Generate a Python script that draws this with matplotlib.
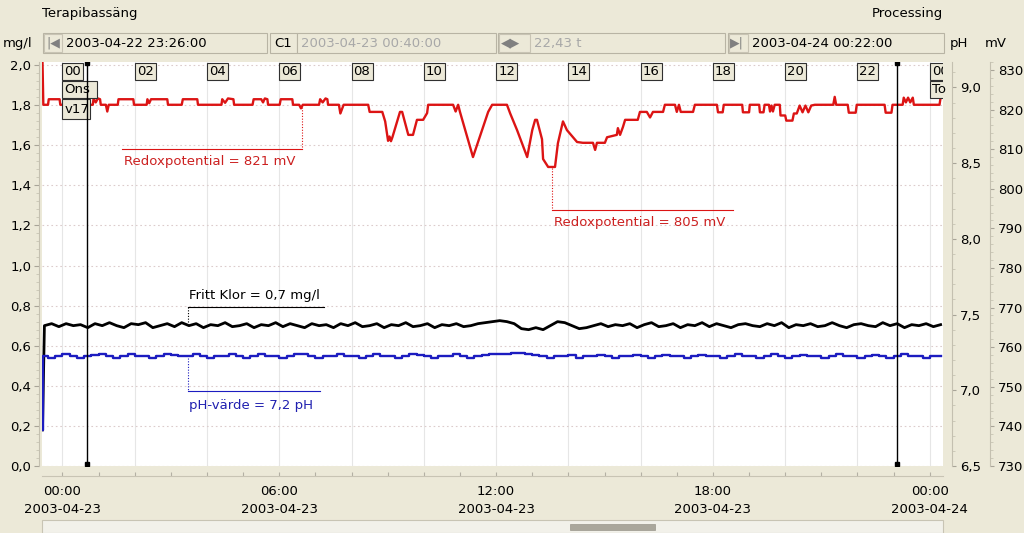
import numpy as np
import pandas as pd
import matplotlib
matplotlib.use("Agg")
import matplotlib.pyplot as plt
import matplotlib.dates as mdates
from matplotlib.patches import Rectangle
from matplotlib.ticker import MultipleLocator, FuncFormatter

# ---- data (hours after 2003-04-23 00:00) ----
START = pd.Timestamp("2003-04-23 00:00")
X_MIN = pd.Timestamp("2003-04-22 23:26:00")
X_MAX = pd.Timestamp("2003-04-24 00:22:00")
CURSOR_1 = pd.Timestamp("2003-04-23 00:40:00")
CURSOR_SPAN_H = 22.43

red_hours = [
    -0.553, -0.53, -0.40, -0.38, -0.08, -0.06, 0.84, 0.86, 0.92, 0.98, 1.04, 1.06,
    1.20, 1.24, 1.28, 1.53, 1.55, 1.96, 1.98, 2.33, 2.35, 2.40, 2.45, 2.90, 2.92,
    3.30, 3.33, 3.73, 3.75, 4.40, 4.42, 4.50, 4.58, 4.73, 4.75, 5.26, 5.29, 5.50,
    5.55, 5.60, 5.67, 5.69, 6.01, 6.04, 6.36, 6.38, 6.55, 6.60, 6.65, 7.10, 7.13,
    7.20, 7.28, 7.33, 7.35, 7.65, 7.69, 7.73, 7.78, 8.46, 8.50, 8.85, 8.93, 9.01,
    9.05, 9.09, 9.13, 9.34, 9.40, 9.57, 9.70, 9.81, 9.98, 10.09, 10.12, 10.81,
    10.88, 10.95, 11.00, 11.14, 11.36, 11.61, 11.78, 11.89, 12.30, 12.39, 12.58,
    12.86, 13.00, 13.08, 13.13, 13.27, 13.30, 13.44, 13.63, 13.71, 13.85, 13.96,
    14.24, 14.40, 14.68, 14.74, 14.79, 15.01, 15.07, 15.34, 15.37, 15.43, 15.51,
    15.57, 15.92, 15.98, 16.17, 16.26, 16.34, 16.62, 16.67, 16.95, 17.00, 17.06,
    17.11, 17.45, 17.50, 18.11, 18.14, 18.27, 18.30, 18.81, 18.83, 19.00, 19.02,
    19.28, 19.30, 19.40, 19.43, 19.55, 19.58, 19.62, 19.66, 19.71, 19.85, 19.87,
    20.00, 20.03, 20.20, 20.24, 20.32, 20.40, 20.48, 20.56, 20.64, 20.72, 20.82,
    21.33, 21.37, 21.41, 21.73, 21.76, 21.95, 21.98, 22.75, 22.78, 22.94, 22.97,
    23.25, 23.28, 23.34, 23.40, 23.46, 23.53, 23.56, 24.27, 24.30, 24.37,
]
red_mv = [
    832.0, 821.2, 821.2, 822.6, 822.6, 821.2, 821.2, 822.8, 821.8, 822.8, 822.6, 821.2,
    821.2, 819.5, 821.2, 821.2, 822.6, 822.6, 821.2, 821.2, 822.6, 821.6, 822.6, 822.6, 821.2,
    821.2, 822.6, 822.6, 821.2, 821.2, 822.6, 821.7, 822.8, 822.6, 821.2, 821.2, 822.6, 822.6,
    821.8, 822.8, 822.6, 821.2, 821.2, 822.6, 822.6, 821.2, 821.2, 820.3, 821.2, 821.2, 822.6,
    821.8, 822.8, 822.6, 821.2, 821.2, 819.0, 820.0, 821.2, 821.2, 819.4, 819.4, 817.0, 812.1,
    813.2, 812.0, 813.0, 819.4, 819.4, 813.6, 813.6, 817.4, 817.4, 819.1, 821.2, 821.2,
    819.5, 821.2, 819.4, 815.0, 808.0, 814.8, 819.4, 821.2, 821.2, 819.0, 814.8,
    808.0, 814.8, 817.4, 817.4, 812.5, 807.5, 805.5, 805.5, 811.5, 817.0, 814.8,
    811.8, 811.6, 811.6, 809.8, 811.6, 811.6, 813.0, 813.6, 815.3, 813.6, 815.6,
    817.4, 817.4, 819.4, 819.4, 818.0, 819.4, 819.4, 821.2, 821.2, 819.4, 821.2,
    819.4, 819.4, 821.2, 821.2, 819.3, 819.3, 821.2, 821.2, 819.3, 819.3, 821.2,
    821.2, 819.3, 819.3, 821.2, 821.2, 819.5, 821.0, 819.5, 821.2, 821.2, 818.5,
    818.5, 817.2, 817.2, 819.0, 819.0, 821.0, 819.3, 821.0, 819.3, 821.0, 821.2,
    821.2, 823.2, 821.2, 821.2, 819.2, 819.2, 821.2, 821.2, 819.2, 819.2, 821.2,
    821.2, 823.0, 821.8, 823.0, 821.8, 823.0, 821.2, 821.2, 823.0, 823.0,
]

# chlorine (mg/l) and pH sampled every 0.2 h from -0.5 h
sample_first_h, sample_step_h = -0.5, 0.2
start_h = -0.553
klor_start, ph_start = 0.18, 6.74
klor_mgl = [
    0.70, 0.71, 0.695, 0.71, 0.70, 0.705, 0.69, 0.71, 0.70, 0.715,
    0.70, 0.69, 0.71, 0.705, 0.715, 0.69, 0.70, 0.71, 0.695, 0.715,
    0.70, 0.71, 0.69, 0.705, 0.70, 0.715, 0.695, 0.70, 0.71, 0.69,
    0.705, 0.70, 0.715, 0.695, 0.71, 0.70, 0.69, 0.71, 0.70, 0.705,
    0.69, 0.71, 0.70, 0.715, 0.695, 0.70, 0.71, 0.69, 0.705, 0.70,
    0.715, 0.695, 0.70, 0.71, 0.69, 0.705, 0.70, 0.71, 0.695, 0.70,
    0.71, 0.715, 0.72, 0.725, 0.72, 0.71, 0.685, 0.68, 0.69, 0.68,
    0.70, 0.72, 0.715, 0.70, 0.685, 0.69, 0.70, 0.71, 0.695, 0.705,
    0.70, 0.71, 0.69, 0.705, 0.715, 0.695, 0.70, 0.71, 0.69, 0.705,
    0.70, 0.715, 0.695, 0.71, 0.70, 0.69, 0.705, 0.71, 0.70, 0.695,
    0.71, 0.70, 0.715, 0.69, 0.705, 0.70, 0.71, 0.695, 0.70, 0.715,
    0.70, 0.69, 0.705, 0.71, 0.70, 0.695, 0.715, 0.70, 0.71, 0.69,
    0.705, 0.70, 0.71, 0.695, 0.705,
]
ph_value = [
    7.225, 7.21, 7.225, 7.24, 7.225, 7.21, 7.225, 7.235, 7.24, 7.225,
    7.21, 7.225, 7.24, 7.225, 7.225, 7.21, 7.225, 7.24, 7.23, 7.225,
    7.225, 7.24, 7.225, 7.21, 7.225, 7.225, 7.24, 7.225, 7.21, 7.225,
    7.24, 7.225, 7.225, 7.21, 7.225, 7.24, 7.24, 7.225, 7.21, 7.225,
    7.225, 7.24, 7.225, 7.225, 7.21, 7.225, 7.24, 7.225, 7.225, 7.21,
    7.225, 7.24, 7.23, 7.225, 7.21, 7.225, 7.225, 7.24, 7.225, 7.215,
    7.225, 7.235, 7.24, 7.24, 7.24, 7.245, 7.245, 7.24, 7.235, 7.225,
    7.215, 7.225, 7.225, 7.23, 7.215, 7.225, 7.225, 7.23, 7.225, 7.215,
    7.225, 7.225, 7.235, 7.225, 7.215, 7.225, 7.235, 7.225, 7.225, 7.21,
    7.225, 7.235, 7.225, 7.225, 7.215, 7.225, 7.24, 7.225, 7.225, 7.21,
    7.225, 7.24, 7.225, 7.215, 7.225, 7.235, 7.225, 7.225, 7.21, 7.225,
    7.24, 7.225, 7.225, 7.215, 7.225, 7.235, 7.225, 7.21, 7.225, 7.24,
    7.225, 7.225, 7.21, 7.225, 7.225,
]

# ---- helpers ----
W, H = 1024, 533
PX_PER_H = 36.17
BG = "#ECE9D8"
FONT = 9.5
RED, BLUE = "#dc1414", "#1c1cc0"
RED_TXT, BLUE_TXT = "#cc2020", "#2020b0"


def to_time(hours):
    return START + pd.to_timedelta(np.asarray(hours, dtype=float), unit="h")


def fx(x):
    return x / W


def fy(y):
    return 1 - y / H


def fig_box(fig, x0, x1, y0, y1, face=BG, edge="#b8b4a4", lw=0.8):
    fig.add_artist(Rectangle((fx(x0), fy(y1)), fx(x1) - fx(x0), fy(y0) - fy(y1),
                             transform=fig.transFigure, facecolor=face,
                             edgecolor=edge, lw=lw))


def comma(v, _):
    return f"{v:.1f}".replace(".", ",")


plt.rcParams["font.family"] = ["DejaVu Sans"]
plt.rcParams["font.size"] = FONT

fig = plt.figure(figsize=(W / 100, H / 100), dpi=100, facecolor=BG)
ax = fig.add_axes([fx(42), fy(466), fx(943) - fx(42), fy(62) - fy(466)])
ax.set_facecolor("white")
ax_ph = ax.twinx()
ax_mv = ax.twinx()

# ---- series ----
sample_h = sample_first_h + sample_step_h * np.arange(len(klor_mgl))
t_samples = to_time(np.concatenate([[start_h], sample_h]))
ax_mv.plot(to_time(red_hours), red_mv, color=RED, lw=1.7, zorder=3)
ax.plot(t_samples, [klor_start] + klor_mgl, color="black", lw=2.0, zorder=3)
ax_ph.plot(t_samples, [ph_start] + ph_value, color=BLUE, lw=1.7,
           drawstyle="steps-mid", zorder=3)

# ---- axes limits / ticks ----
for a in (ax, ax_ph, ax_mv):
    a.set_xlim(X_MIN, X_MAX)
ax.set_ylim(0, 2.015)
ax_ph.set_ylim(6.5, 9.168)
ax_mv.set_ylim(730, 832.0)

spine_col = "#c4c0b0"
for a in (ax, ax_ph, ax_mv):
    for s in a.spines.values():
        s.set_visible(False)

ax.spines["left"].set_visible(True)
ax.spines["left"].set_position(("outward", 2.2))
ax.spines["left"].set_color(spine_col)
ax.yaxis.set_major_locator(MultipleLocator(0.2))
ax.yaxis.set_minor_locator(MultipleLocator(0.04))
ax.yaxis.set_major_formatter(FuncFormatter(comma))
ax.tick_params(axis="y", which="major", length=3.5, width=0.8, color="#a8a498", pad=2)
ax.tick_params(axis="y", which="minor", length=2, width=0.6, color="#c8c4b4")

ax.xaxis.set_major_locator(mdates.HourLocator(byhour=range(0, 24, 2)))
ax.tick_params(axis="x", length=0, labelbottom=False)
ax.grid(axis="x", color="#e6e6e6", lw=0.8)
ax.grid(axis="y", color="#dccccc", lw=0.8, ls=(0, (1.5, 2.5)))
ax.set_axisbelow(True)

for a, pos, major, minor in ((ax_ph, 952, 0.5, 0.1), (ax_mv, 990, 10, 2)):
    a.spines["right"].set_visible(True)
    a.spines["right"].set_position(("axes", (pos - 42) / 901))
    a.spines["right"].set_color(spine_col)
    a.yaxis.set_major_locator(MultipleLocator(major))
    a.yaxis.set_minor_locator(MultipleLocator(minor))
    a.tick_params(axis="y", which="major", length=3, width=0.8, color="#a8a498", pad=3)
    a.tick_params(axis="y", which="minor", length=2, width=0.6, color="#c8c4b4")
    a.tick_params(axis="x", length=0, labelbottom=False)
ax_ph.yaxis.set_major_formatter(FuncFormatter(comma))
ax_mv.yaxis.set_major_formatter(FuncFormatter(lambda v, _: f"{v:.0f}"))

# ---- time strip under plot ----
strip = fig.add_axes([fx(42), fy(476), fx(943) - fx(42), fy(469) - fy(476)])
strip.set_facecolor("none")
strip.set_xlim(X_MIN, X_MAX)
strip.set_yticks([])
for name, s in strip.spines.items():
    s.set_visible(name == "bottom")
strip.spines["bottom"].set_color("#c8c4b4")
strip.xaxis.set_major_locator(mdates.HourLocator(byhour=[0, 6, 12, 18]))
strip.xaxis.set_minor_locator(mdates.HourLocator())
strip.xaxis.set_major_formatter(mdates.DateFormatter("%H:%M\n%Y-%m-%d"))
strip.tick_params(axis="x", which="both", direction="in", length=3, width=0.8,
                  color="#b4b0a4")
strip.tick_params(axis="x", which="major", pad=6.5)
for lbl in strip.get_xticklabels():
    lbl.set_linespacing(1.45)

# ---- hour boxes on top of plot ----
xt = ax_mv.get_xaxis_transform()
hpx = 1 / PX_PER_H / 24  # one pixel in days


def plot_box(t_left, width_px, y_top_px, y_bot_px, label, clip_text=False):
    x0 = mdates.date2num(t_left)
    y0 = 1 - (y_bot_px - 62) / 404
    y1 = 1 - (y_top_px - 62) / 404
    rect = Rectangle((x0, y0), width_px * hpx, y1 - y0, transform=xt,
                     facecolor=BG, edgecolor="#303030", lw=0.8, zorder=5)
    ax_mv.add_patch(rect)
    txt = ax_mv.text(x0 + 2 * hpx, (y0 + y1) / 2, label, transform=xt,
                     ha="left", va="center", fontsize=FONT, zorder=6, clip_on=True)
    if clip_text:
        txt.set_clip_path(rect)


for h in range(0, 25, 2):
    plot_box(to_time(h), 21, 63, 80, f"{h % 24:02d}")
plot_box(START, 35, 81, 98, "Ons", clip_text=True)
plot_box(START, 28, 99, 119, "v17", clip_text=True)
plot_box(to_time(24), 35, 81, 98, "To", clip_text=True)

# ---- cursors ----
for c in (CURSOR_1, CURSOR_1 + pd.Timedelta(hours=CURSOR_SPAN_H)):
    ax_mv.plot([c, c], [0.004, 0.997], transform=xt, color="black", lw=1.0,
               marker="s", ms=3.5, zorder=7)

# ---- value annotations ----
def annotate(a, h_anchor, y_anchor, y_line, h_end, y_text, text, col, tcol):
    t0, t1 = to_time([h_anchor, h_end])
    a.plot([t0, t0], [y_anchor, y_line], color=col, lw=0.8, ls=(0, (1, 1.5)), zorder=4)
    a.plot([min(t0, t1), max(t0, t1)], [y_line, y_line], color=col, lw=0.8, zorder=4)
    a.text(min(t0, t1) + pd.Timedelta(hours=0.05), y_text, text, color=tcol,
           ha="left", va="center", fontsize=FONT, zorder=4)


annotate(ax_mv, 6.64, 820.6, 810.0, 1.66, 806.9, "Redoxpotential = 821 mV", RED, RED_TXT)
annotate(ax_mv, 13.55, 805.3, 794.6, 18.55, 791.6, "Redoxpotential = 805 mV", RED, RED_TXT)
annotate(ax, 3.46, 0.718, 0.795, 7.25, 0.848, "Fritt Klor = 0,7 mg/l", "black", "black")
annotate(ax_ph, 3.46, 7.21, 6.995, 7.13, 6.902, "pH-värde = 7,2 pH", BLUE, BLUE_TXT)

# ---- window chrome ----
fig.text(fx(42), fy(14), "Terapibassäng", ha="left", va="center")
fig.text(fx(943), fy(14), "Processing", ha="right", va="center")
fig.text(fx(3), fy(43), "mg/l", ha="left", va="center")
fig.text(fx(950), fy(43), "pH", ha="left", va="center")
fig.text(fx(985), fy(43), "mV", ha="left", va="center")

fig_box(fig, 43, 267, 33, 53)
fig_box(fig, 44, 62, 34, 52, edge="#c8c4b4")
fig.text(fx(46), fy(43), "|◀", ha="left", va="center", color="#808080", fontsize=9)
fig.text(fx(66), fy(43), "2003-04-22 23:26:00", ha="left", va="center")

fig_box(fig, 270, 297, 33, 53)
fig.text(fx(274), fy(43), "C1", ha="left", va="center")
fig_box(fig, 297, 496, 33, 53)
fig.text(fx(301), fy(43), "2003-04-23 00:40:00", ha="left", va="center", color="#a8a8a8")

fig_box(fig, 498, 725, 33, 53)
fig_box(fig, 499, 530, 34, 52, edge="#c8c4b4")
fig.text(fx(501), fy(43), "◀▶", ha="left", va="center", color="#808080", fontsize=9)
fig.text(fx(534), fy(43), "22,43 t", ha="left", va="center", color="#a8a8a8")

fig_box(fig, 728, 944, 33, 53)
fig_box(fig, 729, 748, 34, 52, edge="#c8c4b4")
fig.text(fx(730), fy(43), "▶|", ha="left", va="center", color="#808080", fontsize=9)
fig.text(fx(752), fy(43), "2003-04-24 00:22:00", ha="left", va="center")

# scrollbar
fig_box(fig, 42, 943, 520, 533, face="#f2f1ea", edge="#c8c4b4")
fig_box(fig, 570, 655, 524, 530, face="#aaa79c", edge="#9a978c", lw=0.5)

fig.savefig("out.png", dpi=100, facecolor=BG)
